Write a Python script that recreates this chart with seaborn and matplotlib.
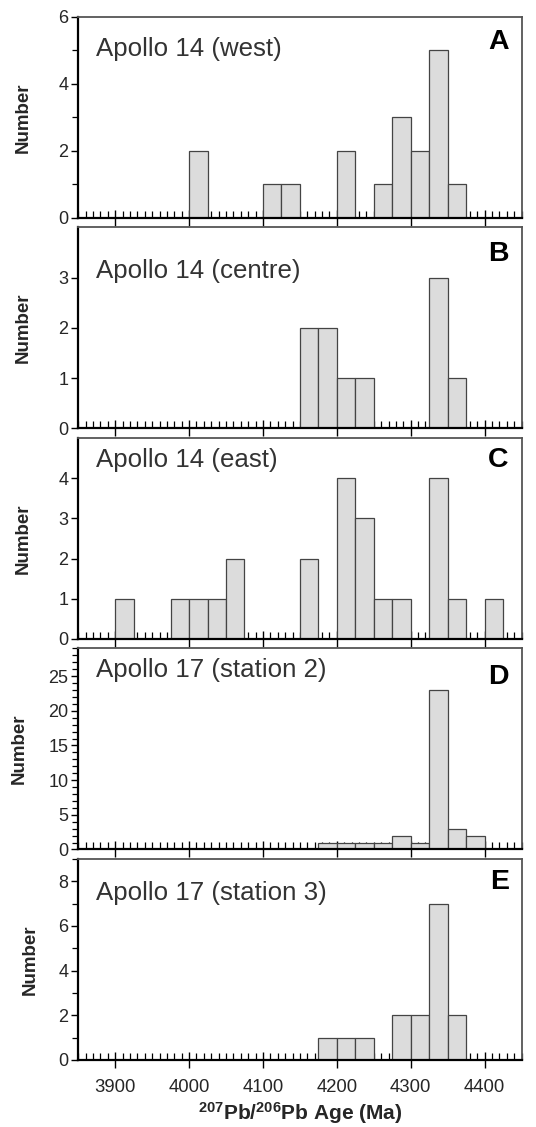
import numpy as np
import pandas as pd
import matplotlib
matplotlib.use("Agg")
from matplotlib import pyplot as plt
from matplotlib.ticker import MultipleLocator, FixedLocator
import seaborn as sns

# ------------------------------------------------------------
#     data: 25 Ma bins, left edge of each bin and its count
# ------------------------------------------------------------

labels = ["Apollo 14 (west)", "Apollo 14 (centre)", "Apollo 14 (east)",
          "Apollo 17 (station 2)", "Apollo 17 (station 3)"]
letters = ["A", "B", "C", "D", "E"]

west_start = [4000, 4100, 4125, 4200, 4250, 4275, 4300, 4325, 4350]
west_count = [2, 1, 1, 2, 1, 3, 2, 5, 1]

centre_start = [4150, 4175, 4200, 4225, 4325, 4350]
centre_count = [2, 2, 1, 1, 3, 1]

east_start = [3900, 3975, 4000, 4025, 4050, 4150, 4200, 4225, 4250, 4275, 4325, 4350, 4400]
east_count = [1, 1, 1, 1, 2, 2, 4, 3, 1, 1, 4, 1, 1]

st2_start = [4175, 4200, 4225, 4250, 4275, 4300, 4325, 4350, 4375]
st2_count = [1, 1, 1, 1, 2, 1, 23, 3, 2]

st3_start = [4175, 4200, 4225, 4275, 4300, 4325, 4350]
st3_count = [1, 1, 1, 2, 2, 7, 2]

starts = [west_start, centre_start, east_start, st2_start, st3_start]
counts = [west_count, centre_count, east_count, st2_count, st3_count]

binwidth = 25
binrange = (3850, 4450)

# y axis per panel: limit, labelled ticks, minor step
ylims = [6, 4, 5, 29, 9]
ymajor = [[0, 2, 4, 6], [0, 1, 2, 3], [0, 1, 2, 3, 4], [0, 5, 10, 15, 20, 25], [0, 2, 4, 6, 8]]
yminor = [1, None, None, 1, 1]

# text placement (axes fraction) and y label padding
label_y = [0.84, 0.785, 0.89, 0.895, 0.83]
letter_y = [0.874, 0.868, 0.892, 0.86, 0.884]
ylabel_pad = [19, 19, 19, 15, 14.5]

# ------------------------------------------------------------
#     plotting
# ------------------------------------------------------------

sns.set_style("ticks")
plt.rcParams["font.family"] = ["Liberation Sans", "DejaVu Sans"]
plt.rcParams["mathtext.fontset"] = "custom"
plt.rcParams["mathtext.rm"] = "Liberation Sans"
plt.rcParams["mathtext.bf"] = "Liberation Sans:bold"
plt.rcParams["mathtext.default"] = "bf"

fig, axes = plt.subplots(5, 1, figsize=(5.36, 11.27), dpi=100)
fig.subplots_adjust(left=0.146, right=0.973, top=0.985, bottom=0.0595, hspace=0.047)

for i, ax in enumerate(axes):
    df = pd.DataFrame({"age": np.array(starts[i]) + binwidth / 2, "n": counts[i]})
    sns.histplot(data=df, x="age", weights="n", binwidth=binwidth, binrange=binrange, ax=ax,
                 color="#dcdcdc", edgecolor="#444444", linewidth=0.9, alpha=1)
    # drop the empty bins so they do not draw on the axis
    for p in list(ax.patches):
        if p.get_height() == 0:
            p.remove()

    ax.set_xlim(3850, 4450)
    ax.set_ylim(0, ylims[i])
    ax.xaxis.set_major_locator(FixedLocator([3900, 4000, 4100, 4200, 4300, 4400]))
    ax.xaxis.set_minor_locator(MultipleLocator(10))
    ax.tick_params(axis="x", which="major", direction="inout", length=12, width=1.0, color="black")
    ax.tick_params(axis="x", which="minor", direction="in", length=5, width=0.9, color="black")
    ax.yaxis.set_major_locator(FixedLocator(ymajor[i]))
    if yminor[i]:
        ax.yaxis.set_minor_locator(MultipleLocator(yminor[i]))
    ax.tick_params(axis="y", which="major", direction="out", length=5, width=1.0,
                   color="black", labelsize=13, pad=2)
    ax.tick_params(axis="y", which="minor", direction="out", length=4, width=0.9, color="black")

    for side in ["top", "right"]:
        ax.spines[side].set_visible(True)
        ax.spines[side].set_color("#555555")
        ax.spines[side].set_linewidth(1.3)
    for side in ["left", "bottom"]:
        ax.spines[side].set_color("black")
        ax.spines[side].set_linewidth(1.6)

    ax.set_ylabel("Number", fontsize=13.5, fontweight="bold", labelpad=ylabel_pad[i])
    ax.text(0.041, label_y[i], labels[i], transform=ax.transAxes,
            fontsize=18.6, color="#333333", ha="left", va="center")
    ax.text(0.971, letter_y[i], letters[i], transform=ax.transAxes,
            fontsize=20.5, fontweight="bold", color="black", ha="right", va="center")

    if i < 4:
        ax.set_xlabel("")
        ax.tick_params(axis="x", labelbottom=False)
    else:
        ax.tick_params(axis="x", which="major", labelsize=13.3, pad=8)
        ax.set_xlabel(r"$^{207}$Pb/$^{206}$Pb Age (Ma)", fontsize=15,
                      fontweight="bold", labelpad=3)

plt.savefig("out.png", dpi=100)
